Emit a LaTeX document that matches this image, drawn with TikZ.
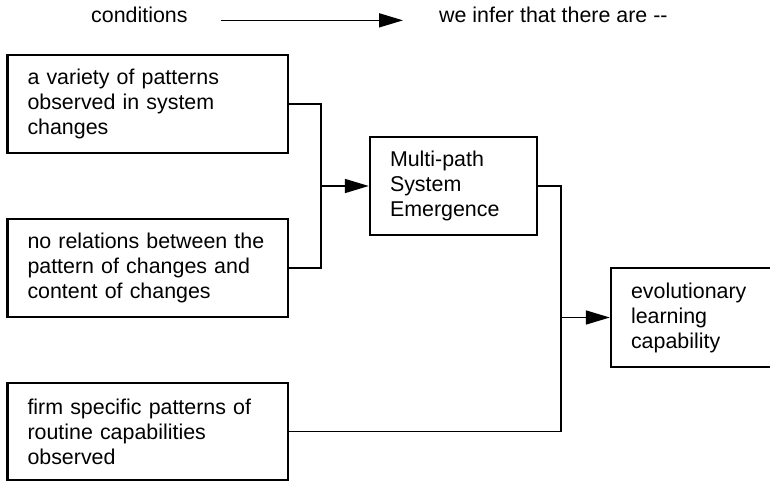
\documentclass[tikz,border=0pt]{standalone}
\usepackage{fontspec}
\setmainfont{Liberation Sans}
\usetikzlibrary{arrows.meta}

\begin{document}
\begin{tikzpicture}[x=1pt,y=1pt,
  every node/.style={font=\fontsize{21.4}{25}\selectfont},
  box/.style={draw, line width=2.4pt, rectangle, align=left, inner xsep=20pt, inner ysep=0pt},
  wide/.style={box, text width=240.5pt, minimum width=280.5pt, minimum height=98pt},
  link/.style={line width=1.6pt},
  arr/.style={link, -{Triangle[length=24pt,width=14pt]}},
  lbl/.style={inner sep=0pt, anchor=base west}
]
\useasboundingbox (0,0) rectangle (770,482);

% heading: reading direction of the chart
\node[lbl] (cond)  at (91,459)  {conditions};
\node[lbl] (infer) at (439,459) {we infer that there are -{}-};
\draw[arr, shorten <=33pt, shorten >=36pt] (cond.mid east) -- (infer.mid west);

% observed conditions
\node[wide] (A) at (147.75,378) {a variety of patterns\\observed in system\\changes};
\node[wide] (B) at (147.75,214) {\mbox{no relations between the}\\pattern of changes and\\content of changes};
\node[wide, minimum height=97pt] (C) at (147.75,50.5) {firm specific patterns of\\routine capabilities\\observed};

% inferred properties
\node[box, text width=127pt, minimum width=167pt, minimum height=98pt] (M) at (453.5,296) {Multi-path\\System\\Emergence};
\node[box, text width=125pt, minimum width=165pt, minimum height=99pt] (E) at (693.5,164.5) {evolutionary\\learning\\capability};

% junction points of the connectors
\coordinate (j1) at (321,296);
\coordinate (j2) at (561,164.5);

\draw[link] (A.east) -| (j1);
\draw[link] (B.east) -| (j1);
\draw[arr] (j1) -- (M.west);

\draw[link] (M.east) -| (j2);
\draw[link] (C.east) -| (j2);
\draw[arr] (j2) -- (E.west);
\end{tikzpicture}
\end{document}
